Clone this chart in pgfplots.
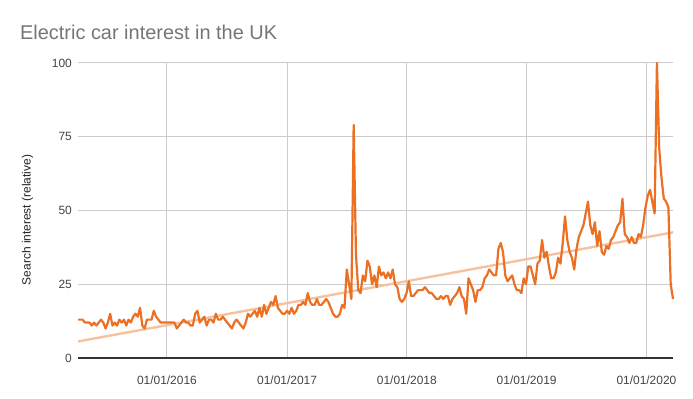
\documentclass[border=0pt]{standalone}
\usepackage{fontspec}
\setmainfont{Liberation Sans}
\usepackage{pgfplots}
\usepackage{pgfplotstable}
\pgfplotsset{compat=1.18}
\definecolor{lineor}{RGB}{235,112,36}
\definecolor{trendor}{RGB}{246,194,158}
\definecolor{gridc}{RGB}{204,204,204}
\definecolor{titlec}{RGB}{117,117,117}
\definecolor{tickc}{RGB}{68,68,68}
\definecolor{labc}{RGB}{34,34,34}
\pgfplotstableread{
w v
0 13
1 13
2 13
3 12
4 12
5 12
6 11
7 12
8 11
9 12
10 13
11 12
12 10
13 12
14 15
15 11
16 12
17 11
18 13
19 12
20 13
21 11
22 13
23 12
24 14
25 15
26 14
27 17
28 11
29 10
30 13
31 13
32 13
33 16
34 14
35 13
36 12
37 12
38 12
39 12
40 12
41 12
42 12
43 10
44 11
45 12
46 13
47 12
48 12
49 11
50 11
51 15
52 16
53 12
54 13
55 14
56 11
57 13
58 13
59 12
60 15
61 13
62 13
63 14
64 13
65 12
66 11
67 10
68 12
69 13
70 12
71 11
72 10
73 12
74 15
75 14
76 15
77 16
78 14
79 17
80 14
81 18
82 15
83 17
84 19
85 18
86 21
87 17
88 16
89 15
90 15
91 16
92 15
93 17
94 15
95 16
96 18
97 18
98 19
99 18
100 22
101 19
102 18
103 18
104 20
105 18
106 18
107 19
108 20
109 19
110 17
111 15
112 14
113 14
114 15
115 18
116 17
117 30
118 25
119 20
120 79
121 35
122 23
123 22
124 28
125 26
126 33
127 31
128 25
129 28
130 24
131 31
132 28
133 29
134 27
135 29
136 27
137 30
138 25
139 24
140 20
141 19
142 20
143 22
144 26
145 21
146 21
147 22
148 23
149 23
150 23
151 24
152 23
153 22
154 22
155 21
156 20
157 20
158 21
159 20
160 21
161 21
162 18
163 20
164 21
165 22
166 24
167 21
168 20
169 15
170 27
171 25
172 23
173 19
174 23
175 23
176 24
177 27
178 28
179 30
180 29
181 28
182 28
183 37
184 39
185 36
186 28
187 26
188 27
189 28
190 25
191 23
192 23
193 22
194 27
195 25
196 31
197 31
198 28
199 25
200 32
201 33
202 40
203 34
204 36
205 31
206 27
207 27
208 29
209 34
210 32
211 39
212 48
213 40
214 36
215 34
216 30
217 37
218 41
219 43
220 45
221 49
222 53
223 45
224 42
225 46
226 38
227 43
228 36
229 35
230 38
231 37
232 40
233 41
234 43
235 45
236 46
237 54
238 42
239 41
240 39
241 41
242 39
243 39
244 42
245 41
246 45
247 51
248 55
249 57
250 53
251 49
252 100
253 71
254 61
255 54
256 53
257 51
258 25
259 20
}\datatable
\begin{document}
\begin{tikzpicture}
\path[use as bounding box] (-78bp,-41bp) rectangle (615bp,358bp);
\begin{axis}[
  at={(0,0)}, anchor=south west,
  width=595bp, height=295bp, scale only axis,
  xmin=0, xmax=259, ymin=0, ymax=100,
  axis line style={draw=none},
  grid=major,
  major grid style={draw=gridc, line width=1bp},
  major tick length=0pt,
  ytick={0,25,50,75,100},
  xtick={38.71,91.0,143.14,195.29,247.43},
  xticklabels={01/01/2016,01/01/2017,01/01/2018,01/01/2019,01/01/2020},
  /pgf/number format/assume math mode=true,
  tick label style={font=\fontsize{12}{14}\selectfont, text=tickc},
  yticklabel style={anchor=east, inner sep=0pt, xshift=-6bp},
  xticklabel style={anchor=base, inner sep=0pt, yshift=-26bp},
  clip=false,
]
\addplot[trendor, line width=2.4bp] coordinates {(0,5.6) (259,42.6)};
\addplot[lineor, line width=2.2bp, line join=round] table[x=w, y=v] {\datatable};
\draw[black!80, line width=1.2bp] (axis cs:0,0) -- (axis cs:259,0);
\end{axis}
\node[anchor=base west, inner sep=0pt, font=\fontsize{20}{24}\selectfont, text=titlec] at (-58bp,318bp) {Electric car interest in the UK};
\node[rotate=90, inner sep=0pt, font=\fontsize{12}{14}\selectfont, text=labc] at (-50.5bp,138bp) {Search interest (relative)};
\end{tikzpicture}
\end{document}
